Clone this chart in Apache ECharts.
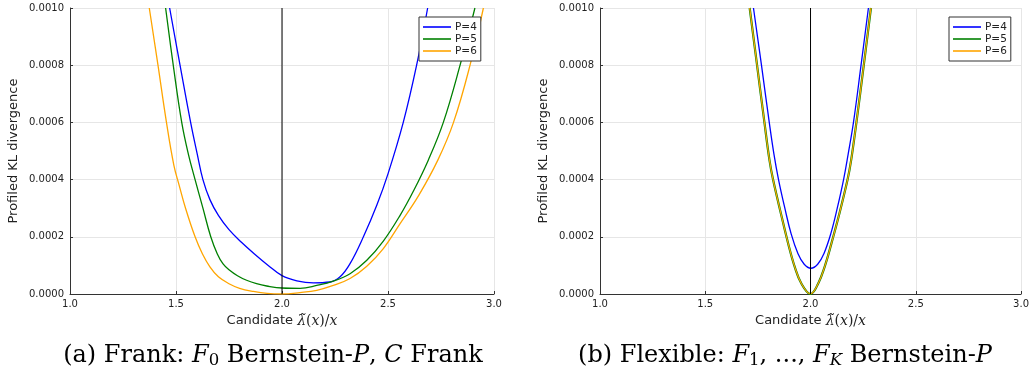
<!DOCTYPE html>
<html>
<head>
<meta charset="utf-8">
<title>Profiled KL divergence</title>
<script src="https://cdn.jsdelivr.net/npm/echarts@6/dist/echarts.min.js"></script>
<style>
  html, body { margin: 0; padding: 0; background: #fff; }
  #chart { width: 1032px; height: 379px; }
</style>
</head>
<body>
<div id="chart"></div>
<script>
// Axis ranges and tick labels
const xTicks = [1.0, 1.5, 2.0, 2.5, 3.0];
const yTicks = [0.0000, 0.0002, 0.0004, 0.0006, 0.0008, 0.0010];
const seriesNames = ['P=4', 'P=5', 'P=6'];
const trueRatio = 2.0;

// (a) Frank copula: [candidate ratio, profiled KL]
const frankP4 = [
  [1.470, 0.001000], [1.519, 0.000800], [1.569, 0.000600], [1.600, 0.000490],
  [1.627, 0.000400], [1.660, 0.000330], [1.700, 0.000275], [1.750, 0.000225],
  [1.810, 0.000180], [1.870, 0.000140], [1.935, 0.000100], [2.000, 0.000064],
  [2.070, 0.000046], [2.148, 0.000039], [2.226, 0.000042], [2.274, 0.000060],
  [2.321, 0.000106], [2.384, 0.000200], [2.447, 0.000310], [2.500, 0.000420],
  [2.572, 0.000600], [2.635, 0.000800], [2.687, 0.001000]
];
const frankP5 = [
  [1.451, 0.001000], [1.487, 0.000800], [1.527, 0.000600], [1.558, 0.000490],
  [1.590, 0.000400], [1.627, 0.000300], [1.664, 0.000200], [1.695, 0.000140],
  [1.722, 0.000105], [1.750, 0.000085], [1.790, 0.000064], [1.833, 0.000048],
  [1.880, 0.000036], [1.928, 0.000028], [2.000, 0.000021], [2.085, 0.000020],
  [2.164, 0.000030], [2.242, 0.000045], [2.321, 0.000071], [2.400, 0.000118],
  [2.478, 0.000185], [2.557, 0.000275], [2.620, 0.000360], [2.690, 0.000468],
  [2.761, 0.000600], [2.840, 0.000800], [2.910, 0.001000]
];
const frankP6 = [
  [1.374, 0.001000], [1.415, 0.000800], [1.455, 0.000600], [1.490, 0.000450],
  [1.515, 0.000380], [1.545, 0.000300], [1.590, 0.000200], [1.625, 0.000140],
  [1.660, 0.000095], [1.700, 0.000060], [1.750, 0.000036], [1.800, 0.000020],
  [1.865, 0.000009], [1.930, 0.000002], [2.000, 0.000000], [2.085, 0.000005],
  [2.164, 0.000013], [2.242, 0.000030], [2.321, 0.000054], [2.400, 0.000097],
  [2.478, 0.000159], [2.557, 0.000246], [2.645, 0.000345], [2.735, 0.000468],
  [2.809, 0.000600], [2.887, 0.000800], [2.950, 0.001000]
];

// (b) Flexible margins: [candidate ratio, profiled KL]
const flexP4 = [
  [1.729, 0.001000], [1.767, 0.000800], [1.804, 0.000600], [1.826, 0.000490],
  [1.848, 0.000400], [1.878, 0.000300], [1.908, 0.000210], [1.940, 0.000142],
  [1.970, 0.000104], [2.002, 0.000090], [2.034, 0.000104], [2.064, 0.000142],
  [2.096, 0.000210], [2.127, 0.000300], [2.157, 0.000400], [2.179, 0.000490],
  [2.204, 0.000600], [2.240, 0.000800], [2.275, 0.001000]
];
const flexP5 = [
  [1.711, 0.001000], [1.746, 0.000800], [1.781, 0.000600], [1.805, 0.000468],
  [1.822, 0.000400], [1.863, 0.000270], [1.894, 0.000176], [1.925, 0.000095],
  [1.957, 0.000036], [2.000, 0.000000], [2.036, 0.000036], [2.067, 0.000095],
  [2.099, 0.000176], [2.135, 0.000275], [2.176, 0.000400], [2.193, 0.000468],
  [2.218, 0.000600], [2.253, 0.000800], [2.287, 0.001000]
];
const flexP6 = [
  [1.711, 0.001000], [1.746, 0.000800], [1.781, 0.000600], [1.805, 0.000468],
  [1.822, 0.000400], [1.863, 0.000270], [1.894, 0.000176], [1.925, 0.000095],
  [1.957, 0.000036], [2.000, 0.000000], [2.036, 0.000036], [2.067, 0.000095],
  [2.099, 0.000176], [2.135, 0.000275], [2.176, 0.000400], [2.193, 0.000468],
  [2.218, 0.000600], [2.253, 0.000800], [2.287, 0.001000]
];

const colors = { 'P=4': '#0000ff', 'P=5': '#008000', 'P=6': '#ffa500' };
const sans = 'DejaVu Sans';
const serif = 'DejaVu Serif';

function xAxisFor(gridIndex) {
  return {
    type: 'value', gridIndex,
    min: xTicks[0], max: xTicks[xTicks.length - 1],
    interval: xTicks[1] - xTicks[0],
    name: 'Candidate {m|λ̃}{r|(}{m|x}{r|)/}{m|x}',
    nameLocation: 'middle', nameGap: 17,
    nameTextStyle: {
      fontFamily: sans, fontSize: 13, color: '#222',
      rich: {
        m: { fontFamily: serif, fontStyle: 'italic', fontSize: 14, color: '#222' },
        r: { fontFamily: serif, fontSize: 14, color: '#222' }
      }
    },
    axisLine: { show: true, onZero: false, lineStyle: { color: '#333', width: 1 } },
    axisTick: { show: true, inside: true, length: 3, lineStyle: { color: '#333' } },
    axisLabel: {
      fontFamily: sans, fontSize: 10, color: '#222', margin: 5,
      formatter: v => v.toFixed(1)
    },
    splitLine: { show: true, lineStyle: { color: '#e6e6e6', width: 1 } }
  };
}

function yAxisFor(gridIndex) {
  return {
    type: 'value', gridIndex,
    min: yTicks[0], max: yTicks[yTicks.length - 1],
    interval: yTicks[1] - yTicks[0],
    name: 'Profiled KL divergence',
    nameLocation: 'middle', nameGap: 50, nameRotate: 90,
    nameTextStyle: { fontFamily: sans, fontSize: 13, color: '#222' },
    axisLine: { show: true, onZero: false, lineStyle: { color: '#333', width: 1 } },
    axisTick: { show: true, inside: true, length: 3, lineStyle: { color: '#333' } },
    axisLabel: {
      fontFamily: sans, fontSize: 10, color: '#222', margin: 6,
      formatter: v => v.toFixed(4)
    },
    splitLine: { show: true, lineStyle: { color: '#e6e6e6', width: 1 } }
  };
}

function curve(name, data, idx, width) {
  return {
    type: 'line', name, data,
    xAxisIndex: idx, yAxisIndex: idx,
    showSymbol: false, symbol: 'none',
    smooth: 0.4,
    clip: true,
    lineStyle: { color: colors[name], width: width || 1.3 },
    itemStyle: { color: colors[name] },
    emphasis: { disabled: true }
  };
}

function trueLine(idx) {
  return {
    type: 'line', name: 'truth',
    data: [[trueRatio, yTicks[0]], [trueRatio, yTicks[yTicks.length - 1]]],
    xAxisIndex: idx, yAxisIndex: idx,
    showSymbol: false, symbol: 'none',
    lineStyle: { color: '#000', width: 1 },
    emphasis: { disabled: true }
  };
}

function legendAt(left) {
  return {
    data: seriesNames, orient: 'vertical',
    left, top: 17,
    icon: 'rect', itemWidth: 28, itemHeight: 1.6, itemGap: 0,
    padding: [4, 4, 4, 4],
    backgroundColor: '#fff',
    borderColor: '#333', borderWidth: 1,
    selectedMode: false,
    textStyle: { fontFamily: sans, fontSize: 10.5, lineHeight: 12, color: '#222', padding: [0, 0, 0, -1] }
  };
}

const captionRich = {
  i: { fontFamily: serif, fontStyle: 'italic', fontSize: 24, color: '#000' },
  s: { fontFamily: serif, fontSize: 16.5, color: '#000', padding: [10, 0, 0, 0] },
  k: { fontFamily: serif, fontStyle: 'italic', fontSize: 16.5, color: '#000', padding: [10, 0, 0, 0] }
};

const option = {
  animation: false,
  backgroundColor: '#fff',
  title: [
    {
      text: '(a) Frank: {i|F}{s|0} Bernstein-{i|P}, {i|C} Frank',
      left: 268, top: 337, textAlign: 'center',
      textStyle: { fontFamily: serif, fontSize: 24, fontWeight: 'normal', color: '#000', rich: captionRich }
    },
    {
      text: '(b) Flexible: {i|F}{s|1}, ..., {i|F}{k|K} Bernstein-{i|P}',
      left: 780, top: 337, textAlign: 'center',
      textStyle: { fontFamily: serif, fontSize: 24, fontWeight: 'normal', color: '#000', rich: captionRich }
    }
  ],
  legend: [legendAt(419), legendAt(949)],
  grid: [
    { left: 70, right: 538, top: 8, bottom: 85, containLabel: false },
    { left: 600, right: 7, top: 8, bottom: 85, containLabel: false }
  ],
  xAxis: [xAxisFor(0), xAxisFor(1)],
  yAxis: [yAxisFor(0), yAxisFor(1)],
  series: [
    curve('P=4', frankP4, 0),
    curve('P=5', frankP5, 0),
    curve('P=6', frankP6, 0),
    trueLine(0),
    curve('P=4', flexP4, 1),
    curve('P=5', flexP5, 1, 2.2),
    curve('P=6', flexP6, 1, 1.2),
    trueLine(1)
  ]
};

const chart = echarts.init(document.getElementById('chart'), null, { renderer: 'canvas' });
chart.setOption(option);
</script>
</body>
</html>
